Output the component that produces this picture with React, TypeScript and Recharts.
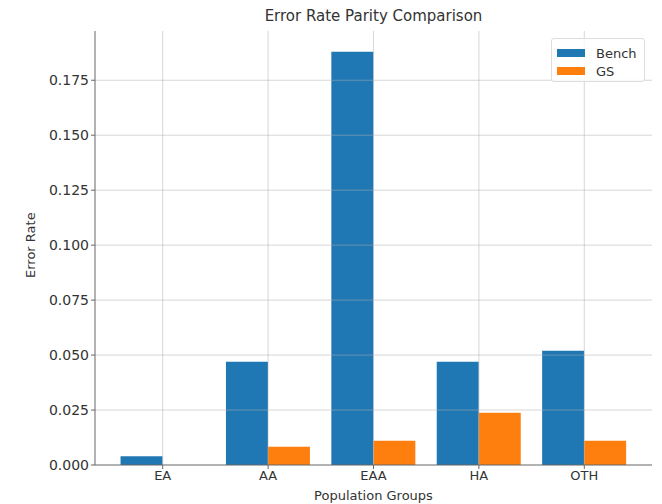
import { BarChart, Bar, XAxis, YAxis, ReferenceLine } from "recharts";

const groups = ["EA", "AA", "EAA", "HA", "OTH"];
const benchRates = [0.004, 0.047, 0.188, 0.047, 0.052];
const gsRates = [0.0, 0.0083, 0.011, 0.0238, 0.011];
const yTicks = [0, 0.025, 0.05, 0.075, 0.1, 0.125, 0.15, 0.175];
const seriesNames = ["Bench", "GS"];
const seriesColors = ["#1f77b4", "#ff7f0e"];

const data = groups.map((g, i) => ({
  group: g,
  bench: benchRates[i],
  gs: gsRates[i],
}));

const FONT = "'DejaVu Sans', sans-serif";
const TEXT = "#333";
const SPINE = "#666";
const GRID = "#b0b0b0";

export default function App() {
  return (
    <div style={{ position: "relative", width: 662, height: 504, fontFamily: FONT, background: "#fff" }}>
      <style>{`body{margin:0}`}</style>
      <div
        style={{
          position: "absolute",
          top: 7,
          left: 95,
          width: 557,
          textAlign: "center",
          fontSize: 15,
          color: TEXT,
        }}
      >
        Error Rate Parity Comparison
      </div>
      <BarChart
        width={662}
        height={504}
        data={data}
        margin={{ top: 31, right: 10, left: 35, bottom: 0 }}
        barCategoryGap="10%"
        barGap={0}
      >
        <XAxis
          dataKey="group"
          interval={0}
          padding={{ left: 15, right: 15 }}
          height={39}
          stroke={SPINE}
          tickSize={4}
          tick={{ fill: TEXT, fontSize: 13, fontFamily: FONT }}
          label={{ value: "Population Groups", position: "insideBottom", offset: 0, dy: -4, fill: TEXT, fontSize: 13, fontFamily: FONT }}
        />
        <XAxis xAxisId="top" dataKey="group" orientation="top" height={0} tick={false} tickLine={false} stroke={SPINE} />
        <YAxis
          domain={[0, 0.1974]}
          ticks={yTicks}
          width={60}
          stroke={SPINE}
          tickSize={4}
          tickFormatter={(v: number) => v.toFixed(3)}
          tick={{ fill: TEXT, fontSize: 14, fontFamily: FONT }}
          label={{ value: "Error Rate", angle: -90, position: "insideLeft", offset: -5, dy: 30, fill: TEXT, fontSize: 13, fontFamily: FONT }}
        />
        <YAxis yAxisId="right" orientation="right" width={0} tick={false} tickLine={false} stroke={SPINE} />
        <Bar dataKey="bench" name={seriesNames[0]} fill={seriesColors[0]} isAnimationActive={false} />
        <Bar dataKey="gs" name={seriesNames[1]} fill={seriesColors[1]} isAnimationActive={false} />
        {yTicks.slice(1).map((t) => (
          <ReferenceLine key={`y-${t}`} y={t} stroke={GRID} strokeOpacity={0.5} />
        ))}
        {groups.map((g) => (
          <ReferenceLine key={`x-${g}`} x={g} stroke={GRID} strokeOpacity={0.5} />
        ))}
      </BarChart>
      <div
        style={{
          position: "absolute",
          top: 38,
          right: 17,
          width: 94,
          height: 44,
          boxSizing: "border-box",
          border: "1px solid #ddd",
          borderRadius: 3,
          background: "rgba(255,255,255,0.8)",
          padding: "5px 0 0 5px",
        }}
      >
        {seriesNames.map((n, i) => (
          <div key={n} style={{ display: "flex", alignItems: "center", height: 18, fontSize: 13, color: TEXT }}>
            <span style={{ display: "inline-block", width: 28, height: 8, background: seriesColors[i], marginRight: 11 }} />
            {n}
          </div>
        ))}
      </div>
    </div>
  );
}
